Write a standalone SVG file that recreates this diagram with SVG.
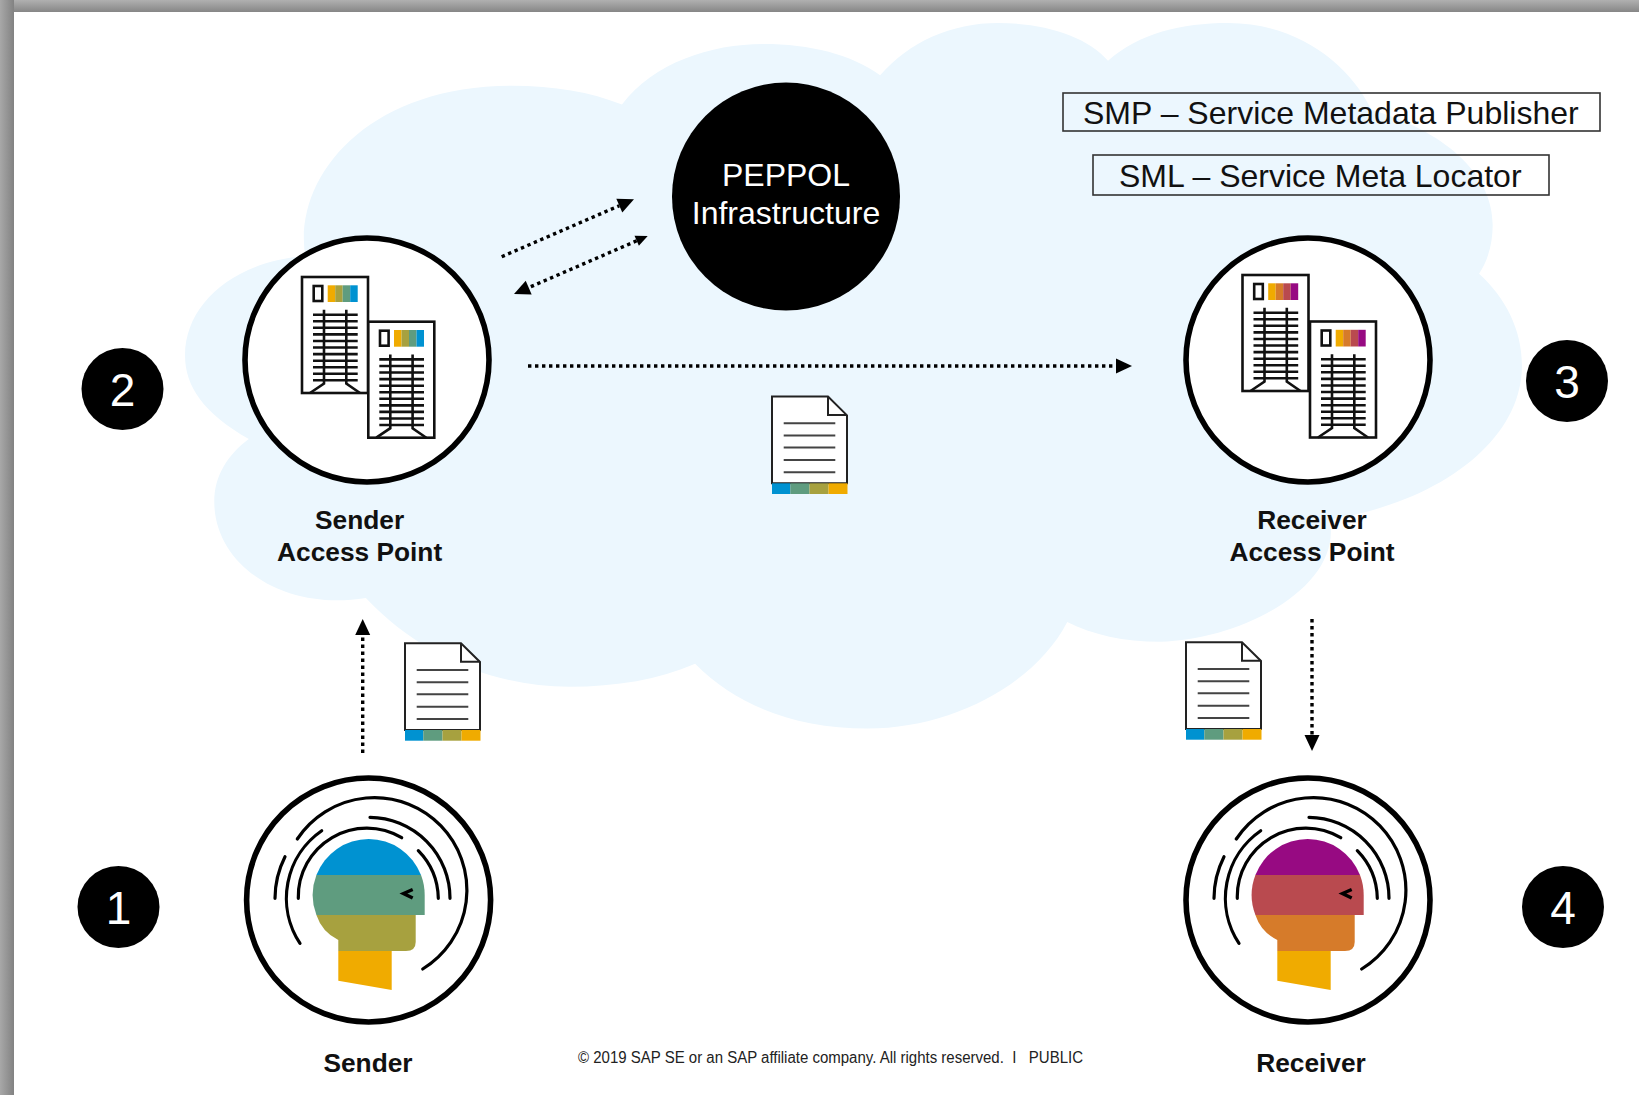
<svg xmlns="http://www.w3.org/2000/svg" width="1639" height="1095" viewBox="0 0 1639 1095">
<style>
text{font-family:"Liberation Sans",Arial,sans-serif}
.ring{fill:#fff;stroke:#000;stroke-width:5.6}
.lbl{font-size:26.3px;font-weight:bold;fill:#111;text-anchor:middle}
.num{font-size:46px;fill:#fff;text-anchor:middle}
.box{fill:none;stroke:#333;stroke-width:1.6}
.boxt{font-size:32px;fill:#111}
.ln{fill:none;stroke:#111;stroke-width:2.6}
.arc{fill:none;stroke:#000;stroke-width:3.2;stroke-linecap:round}
.dot{fill:none;stroke:#000;stroke-width:3.4;stroke-dasharray:3.4 3.6}
</style>
<defs>
<linearGradient id="gt" x1="0" y1="0" x2="0" y2="1"><stop offset="0" stop-color="#b0b0b0"/><stop offset="1" stop-color="#868686"/></linearGradient>
<linearGradient id="gl" x1="0" y1="0" x2="1" y2="0"><stop offset="0" stop-color="#a8a8a8"/><stop offset="1" stop-color="#828282"/></linearGradient>
<marker id="ah" markerUnits="userSpaceOnUse" markerWidth="18" markerHeight="16" refX="1" refY="8" orient="auto"><path d="M1 0.5L17 8L1 15.5Z" fill="#000"/></marker>
<marker id="ahs" markerUnits="userSpaceOnUse" markerWidth="14" markerHeight="12" refX="1" refY="6" orient="auto-start-reverse"><path d="M1 0.5L13 6L1 11.5Z" fill="#000"/></marker>
<g id="server">
<rect class="ln" x="0" y="0" width="66" height="116" style="fill:#fff"/>
<rect class="ln" x="11.7" y="9" width="8.6" height="15"/>
<path class="ln" d="M11 37.7H55.7M11 44.3H55.7M11 50.8H55.7M11 57.4H55.7M11 64H55.7M11 70.5H55.7M11 77.1H55.7M11 83.7H55.7M11 90.2H55.7M11 96.8H55.7M11 103.3H55.7"/>
<path class="ln" d="M22 32.7V106.5L8 116M44.3 32.7V106.5L58 116"/>
</g>
<g id="rings">
<path class="arc" d="M298.3 898.3A68.5 68.5 0 0 1 401.7 837.7"/>
<path class="arc" d="M418.3 850.7A70 70 0 0 1 438.3 898.3"/>
<path class="arc" d="M370 817.3A81 81 0 0 1 450 898.3"/>
<path class="arc" d="M300 943.3A82 82 0 0 1 321.7 830.7"/>
<path class="arc" d="M422.7 969A92.5 92.5 0 1 0 297.3 839"/>
<path class="arc" d="M275 898.3A93 93 0 0 1 285 856.7"/>
<path d="M412.7 889.5L403.5 893.5L412.7 898" fill="none" stroke="#000" stroke-width="3.4"/>
</g>
<path id="h1" d="M316.4 875A56 56 0 0 1 421 875Z"/>
<path id="h2" d="M316.4 875H421A56 56 0 0 1 424.7 895V915H316.4A56 56 0 0 1 316.4 875Z"/>
<path id="h3" d="M316.4 915H415.7V942Q415.7 951 406 951H338.3V940Q322 932 316.4 915Z"/>
<path id="h4" d="M338.3 951H391.7V990L338.3 980.7Z"/>
<g id="doc">
<path d="M405 643.3H461L480 662V730H405Z" fill="#fff" stroke="#222" stroke-width="2"/>
<path d="M461 643.3V661.7H480" fill="none" stroke="#222" stroke-width="2"/>
<path d="M416.7 670H468.3M416.7 682.3H468.3M416.7 694.3H468.3M416.7 706.7H468.3M416.7 719H468.3" stroke="#444" stroke-width="2"/>
<rect x="405" y="730" width="18.3" height="10.7" fill="#0092d1"/>
<rect x="423.3" y="730" width="19.2" height="10.7" fill="#5f9c7f"/>
<rect x="442.5" y="730" width="19" height="10.7" fill="#a7a13f"/>
<rect x="461.5" y="730" width="19" height="10.7" fill="#f0ab00"/>
</g>
</defs>
<rect width="1639" height="1095" fill="#fff"/>
<g id="cloud"><path transform="scale(1.0453)" fill="#ecf7fe" d="M238 420C195 395 177 370 177 340C177 290 225 250 292 245C280 170 350 82 490 82C530 82 565 88 595 100C625 60 680 42 730 42C775 42 815 52 842 72C870 40 910 22 955 22C1000 22 1040 35 1060 58C1090 32 1130 22 1175 22C1240 22 1290 60 1312 105C1380 125 1428 165 1428 215C1428 232 1424 248 1415 262C1440 285 1456 315 1456 350C1456 420 1380 480 1272 497C1285 560 1190 612 1110 614C1075 614 1045 607 1021 595C990 655 910 697 830 697C760 697 705 675 665 635C630 650 590 657 545 657C470 657 400 625 350 572C270 585 205 540 205 480C205 455 218 435 238 420Z"/></g>
<g id="frame"><rect x="0" y="0" width="1639" height="12" fill="url(#gt)"/><rect x="0" y="0" width="14" height="1095" fill="url(#gl)"/></g>
<g id="connectors">
<path class="dot" d="M501.7 256.7L619.3 205.7" marker-end="url(#ah)"/>
<path class="dot" d="M636.7 240.8L528.7 287.6" marker-start="url(#ahs)" marker-end="url(#ah)"/>
<path class="dot" d="M528 366H1116" marker-end="url(#ah)"/>
<path class="dot" d="M362.7 753V635" marker-end="url(#ah)"/>
<path class="dot" d="M1312 619V735" marker-end="url(#ah)"/>
</g>
<g id="peppol"><circle cx="786" cy="196.5" r="114" fill="#000"/><text x="786" y="186" font-size="32" fill="#fff" text-anchor="middle">PEPPOL</text><text x="786" y="224" font-size="32" fill="#fff" text-anchor="middle">Infrastructure</text></g>
<g id="smp"><rect class="box" x="1063" y="93" width="537" height="38"/><text class="boxt" x="1083" y="124">SMP – Service Metadata Publisher</text></g>
<g id="sml"><rect class="box" x="1093" y="155" width="456" height="40"/><text class="boxt" x="1119" y="187">SML – Service Meta Locator</text></g>
<g id="sender-ap">
<circle class="ring" cx="367" cy="360" r="122"/>
<use href="#server" x="302" y="277"/><use href="#server" x="368.3" y="321.7"/>
<g><rect x="327.7" y="285.3" width="7.5" height="16.7" fill="#f0ab00"/><rect x="335.2" y="285.3" width="7.5" height="16.7" fill="#a7a13f"/><rect x="342.7" y="285.3" width="7.5" height="16.7" fill="#5f9c7f"/><rect x="350.2" y="285.3" width="7.5" height="16.7" fill="#0092d1"/></g>
<g transform="translate(66.3 44.7)"><rect x="327.7" y="285.3" width="7.5" height="16.7" fill="#f0ab00"/><rect x="335.2" y="285.3" width="7.5" height="16.7" fill="#a7a13f"/><rect x="342.7" y="285.3" width="7.5" height="16.7" fill="#5f9c7f"/><rect x="350.2" y="285.3" width="7.5" height="16.7" fill="#0092d1"/></g>
<text class="lbl" x="359.6" y="529">Sender</text><text class="lbl" x="359.6" y="561">Access Point</text>
</g>
<g id="receiver-ap">
<circle class="ring" cx="1308" cy="360" r="122"/>
<use href="#server" x="1242.5" y="275"/><use href="#server" x="1310" y="321.5"/>
<g transform="translate(940.5 -2)"><rect x="327.7" y="285.3" width="7.5" height="16.7" fill="#f0ab00"/><rect x="335.2" y="285.3" width="7.5" height="16.7" fill="#d67b2a"/><rect x="342.7" y="285.3" width="7.5" height="16.7" fill="#b94a4f"/><rect x="350.2" y="285.3" width="7.5" height="16.7" fill="#970a82"/></g>
<g transform="translate(1008 44.5)"><rect x="327.7" y="285.3" width="7.5" height="16.7" fill="#f0ab00"/><rect x="335.2" y="285.3" width="7.5" height="16.7" fill="#d67b2a"/><rect x="342.7" y="285.3" width="7.5" height="16.7" fill="#b94a4f"/><rect x="350.2" y="285.3" width="7.5" height="16.7" fill="#970a82"/></g>
<text class="lbl" x="1312" y="529">Receiver</text><text class="lbl" x="1312" y="561">Access Point</text>
</g>
<use id="doc-center" href="#doc" x="367" y="-246.7"/>
<use id="doc-sender" href="#doc"/>
<use id="doc-receiver" href="#doc" x="781" y="-1"/>
<g id="sender">
<circle class="ring" cx="368.6" cy="900" r="122"/>
<use href="#h1" fill="#0092d1"/><use href="#h2" fill="#5f9c7f"/><use href="#h3" fill="#a7a13f"/><use href="#h4" fill="#f0ab00"/><use href="#rings"/>
<text class="lbl" x="368" y="1072">Sender</text>
</g>
<g id="receiver">
<circle class="ring" cx="1308" cy="900" r="122"/>
<g transform="translate(939 0)"><use href="#h1" fill="#970a82"/><use href="#h2" fill="#b94a4f"/><use href="#h3" fill="#d67b2a"/><use href="#h4" fill="#f0ab00"/><use href="#rings"/></g>
<text class="lbl" x="1311" y="1072">Receiver</text>
</g>
<g id="n1"><circle cx="118.5" cy="907" r="41" fill="#000"/><text class="num" x="118.5" y="924">1</text></g>
<g id="n2"><circle cx="122.5" cy="389" r="41" fill="#000"/><text class="num" x="122.5" y="406">2</text></g>
<g id="n3"><circle cx="1567" cy="381" r="41" fill="#000"/><text class="num" x="1567" y="398">3</text></g>
<g id="n4"><circle cx="1563" cy="907" r="41" fill="#000"/><text class="num" x="1563" y="924">4</text></g>
<g id="footer"><text x="578" y="1063" font-size="16" fill="#222" textLength="505" lengthAdjust="spacingAndGlyphs">© 2019 SAP SE or an SAP affiliate company. All rights reserved.&#160;&#160;I&#160;&#160;&#160;PUBLIC</text></g>
</svg>
